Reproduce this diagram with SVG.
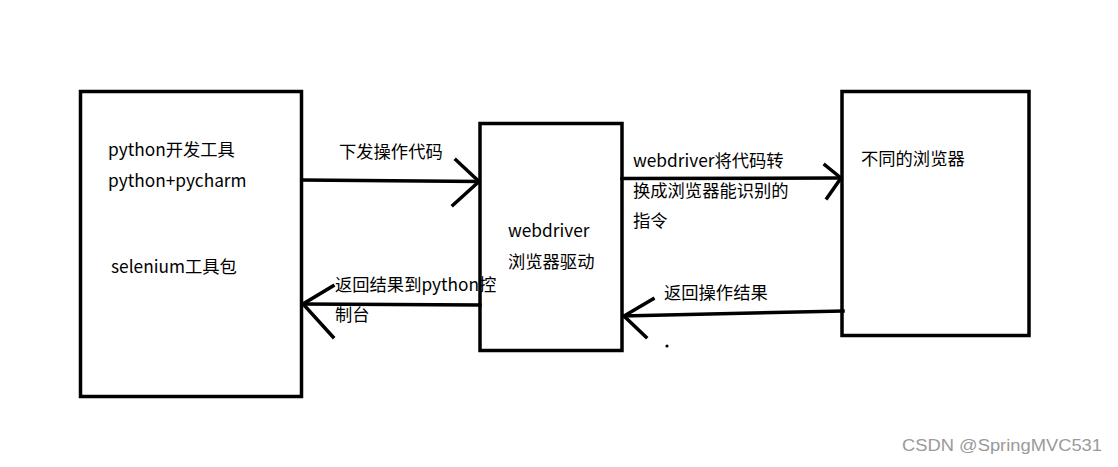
<svg xmlns="http://www.w3.org/2000/svg" width="1118" height="467" viewBox="0 0 1118 467">
<style>
.box{fill:#fff;stroke:#000;stroke-width:3.5}
.ln{fill:none;stroke:#000;stroke-width:3.5;stroke-linecap:square;stroke-linejoin:miter}
text{font-family:"Noto Sans CJK SC","Noto Sans",sans-serif;font-size:17.3px;fill:#000}
.wm{font-family:"Liberation Sans",Arial,sans-serif;font-size:16px;fill:#9a9a9a}
</style>
<rect width="1118" height="467" fill="#fff"/>
<g id="dev">
<rect class="box" x="80.5" y="91.5" width="221" height="305"/>
<text x="108" y="156">python开发工具</text>
<text x="108" y="187">python+pycharm</text>
<text x="111" y="273">selenium工具包</text>
</g>
<g id="webdriver">
<rect class="box" x="480" y="123.5" width="142" height="227"/>
<text x="508" y="237">webdriver</text>
<text x="508" y="268">浏览器驱动</text>
</g>
<g id="browser">
<rect class="box" x="842" y="91.5" width="187" height="244"/>
<text x="861" y="165">不同的浏览器</text>
</g>
<g id="connectors">
<path class="ln" d="M302 180 L479 181.5"/>
<path class="ln" d="M456 160 L479 181.5 L453 205"/>
<path class="ln" d="M480 305 L303 304"/>
<path class="ln" d="M333 286 L303 304 L333 337"/>
<path class="ln" d="M622 178.5 L841 178"/>
<path class="ln" d="M825 165 L841 178 L827 198"/>
<path class="ln" d="M843 311 L624 316"/>
<path class="ln" d="M653 299 L624 316 L646 337"/>
<circle cx="667" cy="346" r="1.6" fill="#000"/>
</g>
<g id="labels">
<text x="339" y="158">下发操作代码</text>
<text x="335" y="291">返回结果到python控</text>
<text x="335" y="321">制台</text>
<text x="633" y="167">webdriver将代码转</text>
<text x="633" y="197">换成浏览器能识别的</text>
<text x="633" y="227">指令</text>
<text x="664" y="299">返回操作结果</text>
</g>
<text class="wm" x="902" y="451" textLength="200" lengthAdjust="spacingAndGlyphs">CSDN @SpringMVC531</text>
</svg>
